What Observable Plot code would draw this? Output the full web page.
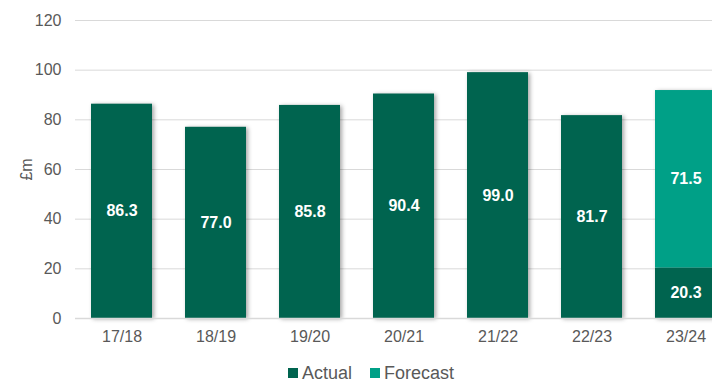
<!DOCTYPE html>
<html>
<head>
<meta charset="utf-8">
<script src="https://cdn.jsdelivr.net/npm/d3@7"></script>
<script src="https://cdn.jsdelivr.net/npm/@observablehq/plot@0.6"></script>
<style>
  html, body { margin: 0; padding: 0; background: #fff; }
  body { width: 712px; height: 385px; overflow: hidden; font-family: "Liberation Sans", Arial, sans-serif; }
  #legend { display: flex; justify-content: center; gap: 18px; font-size: 18px; color: #595959; margin-top: 8px; padding-left: 30px; line-height: 20px; }
  #legend span.sw { display: inline-block; width: 10px; height: 10px; margin-right: 4px; vertical-align: 1px; }
</style>
</head>
<body>
<div id="chart"></div>
<div id="legend"></div>
<script>
// Annual spend, £m
const years = ["17/18", "18/19", "19/20", "20/21", "21/22", "22/23", "23/24"];
const actual = [86.3, 77.0, 85.8, 90.4, 99.0, 81.7, 20.3];
const forecast = [0, 0, 0, 0, 0, 0, 71.5];
const series = ["Actual", "Forecast"];
const colors = ["#00644f", "#00a087"];
const yTicks = [0, 20, 40, 60, 80, 100, 120];

// Long table: actual rows first so they sit at the bottom of each stack
const rows = [
  ...years.map((year, i) => ({year, series: "Actual", value: actual[i]})),
  ...years.map((year, i) => ({year, series: "Forecast", value: forecast[i]}))
].filter(d => d.value > 0);

const chart = Plot.plot({
  width: 712,
  height: 355,
  marginTop: 20,
  marginBottom: 37,
  marginLeft: 75,
  marginRight: 0,
  style: {fontFamily: "'Liberation Sans', Arial, sans-serif", fontSize: "16px", color: "#595959", background: "#fff"},
  // the last category runs past the right edge of the plot
  x: {domain: years, range: [75, 733], paddingInner: 0.35, paddingOuter: 0.175, label: null},
  y: {domain: [0, 120], label: null},
  color: {domain: series, range: colors},
  marks: [
    Plot.ruleY(yTicks.filter(t => t > 0), {stroke: "#d9d9d9", strokeWidth: 1}),
    Plot.axisY({ticks: yTicks, tickSize: 0, tickPadding: 14, label: "£m", labelAnchor: "center", labelArrow: "none", labelOffset: 55, fontSize: 16}),
    Plot.axisX({tickSize: 0, tickPadding: 12, fontSize: 16, label: null}),
    Plot.barY(rows, Plot.stackY({x: "year", y: "value", fill: "series"})),
    Plot.ruleY([0], {stroke: "#d9d9d9", strokeWidth: 1.5}),
    Plot.text(rows, Plot.stackY({
      x: "year", y: "value", z: "series",
      text: d => d.value.toFixed(1),
      fill: "white", fontWeight: "bold", fontSize: 16
    }))
  ]
});

// soft shadow on the bars
d3.select(chart).selectAll('g[aria-label="bar"]').style("filter", "drop-shadow(2px 1px 2px rgba(0,0,0,0.35))");
document.getElementById("chart").appendChild(chart);

const legend = document.getElementById("legend");
series.forEach((s, i) => {
  const item = document.createElement("div");
  item.innerHTML = `<span class="sw" style="background:${colors[i]}"></span>${s}`;
  legend.appendChild(item);
});
</script>
</body>
</html>
